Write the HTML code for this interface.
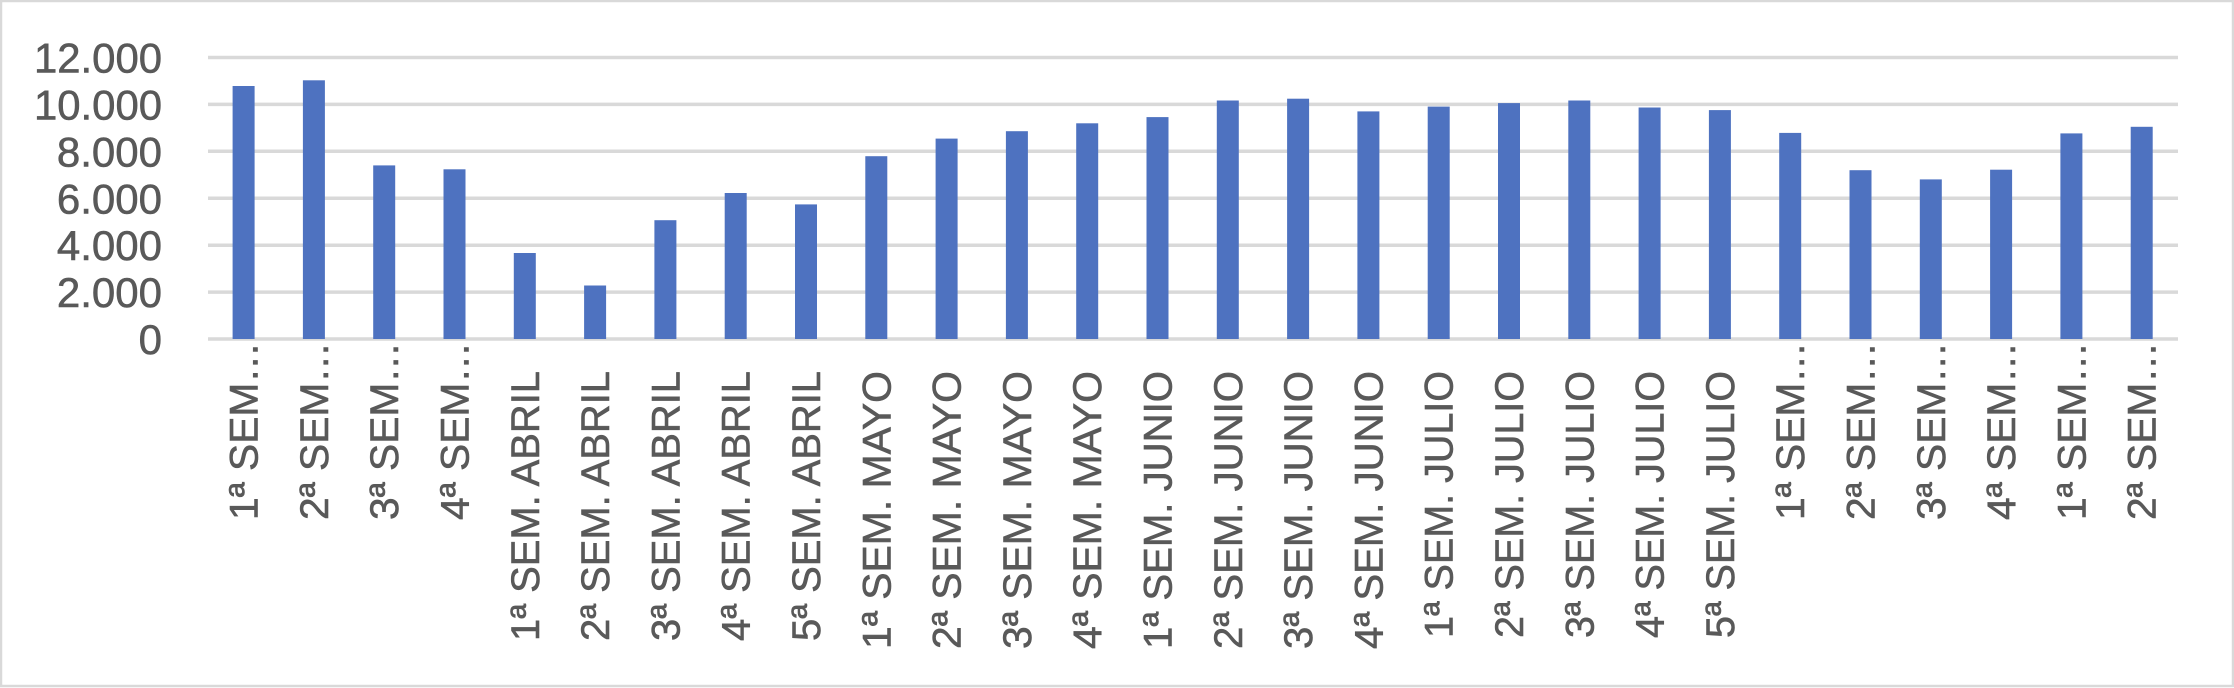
<!DOCTYPE html>
<html><head><meta charset="utf-8"><style>
html,body{margin:0;padding:0;background:#fff;}
svg{display:block;}
</style></head><body>
<svg width="2234" height="688" viewBox="0 0 2234 688" xmlns="http://www.w3.org/2000/svg" font-family="'Liberation Sans', sans-serif">
<rect x="1" y="1" width="2232" height="685" fill="#fff" stroke="#d9d9d9" stroke-width="2.5"/>
<g stroke="#d9d9d9" stroke-width="3.5">
<line x1="208" x2="2178" y1="57.5" y2="57.5"/>
<line x1="208" x2="2178" y1="104.4" y2="104.4"/>
<line x1="208" x2="2178" y1="151.3" y2="151.3"/>
<line x1="208" x2="2178" y1="198.3" y2="198.3"/>
<line x1="208" x2="2178" y1="245.2" y2="245.2"/>
<line x1="208" x2="2178" y1="292.1" y2="292.1"/>
<line x1="208" x2="2178" y1="339" y2="339"/>
</g>
<g fill="#595959" stroke="#595959" stroke-width="0.6" font-size="42" text-anchor="end">
<text x="162" y="72.5" textLength="128" lengthAdjust="spacingAndGlyphs">12.000</text>
<text x="162" y="119.4" textLength="128" lengthAdjust="spacingAndGlyphs">10.000</text>
<text x="162" y="166.3">8.000</text>
<text x="162" y="213.3">6.000</text>
<text x="162" y="260.2">4.000</text>
<text x="162" y="307.1">2.000</text>
<text x="162" y="354">0</text>
</g>
<g id="bars" fill="#4e72c0"></g>
<g id="labels" fill="#595959" stroke="#595959" stroke-width="0.6" font-size="40" text-anchor="end"></g>
<script>
var vals=[10785,11028,7402,7234,3664,2280,5065,6224,5738,7794,8542,8860,9196,9458,10168,10243,9701,9907,10056,10168,9869,9757,8785,7196,6804,7215,8766,9047];
var labs=["1ª SEM…","2ª SEM…","3ª SEM…","4ª SEM…","1ª SEM. ABRIL","2ª SEM. ABRIL","3ª SEM. ABRIL","4ª SEM. ABRIL","5ª SEM. ABRIL","1ª SEM. MAYO","2ª SEM. MAYO","3ª SEM. MAYO","4ª SEM. MAYO","1ª SEM. JUNIO","2ª SEM. JUNIO","3ª SEM. JUNIO","4ª SEM. JUNIO","1ª SEM. JULIO","2ª SEM. JULIO","3ª SEM. JULIO","4ª SEM. JULIO","5ª SEM. JULIO","1ª SEM…","2ª SEM…","3ª SEM…","4ª SEM…","1ª SEM…","2ª SEM…"];
var NS="http://www.w3.org/2000/svg",bg=document.getElementById('bars'),lg=document.getElementById('labels');
for(var i=0;i<28;i++){
 var c=243.6+70.3*i, h=vals[i]/12000*281.5;
 var r=document.createElementNS(NS,'rect');
 r.setAttribute('x',(c-11).toFixed(1));r.setAttribute('width','22');
 r.setAttribute('y',(339-h).toFixed(1));r.setAttribute('height',h.toFixed(1));
 bg.appendChild(r);
 var t=document.createElementNS(NS,'text');
 var trunc=labs[i].indexOf('…')>=0, ye=trunc?342:371;
 var len=trunc?178:(labs[i].indexOf('MAYO')>=0||labs[i].indexOf('JUNIO')>=0?278:(labs[i].indexOf('JULIO')>=0?267:270));
 t.setAttribute('transform','translate('+(c+14).toFixed(1)+','+ye+') rotate(-90)');
 t.setAttribute('textLength',len);t.setAttribute('lengthAdjust','spacingAndGlyphs');
 t.textContent=labs[i];lg.appendChild(t);
}
</script>
</svg>
</body></html>
